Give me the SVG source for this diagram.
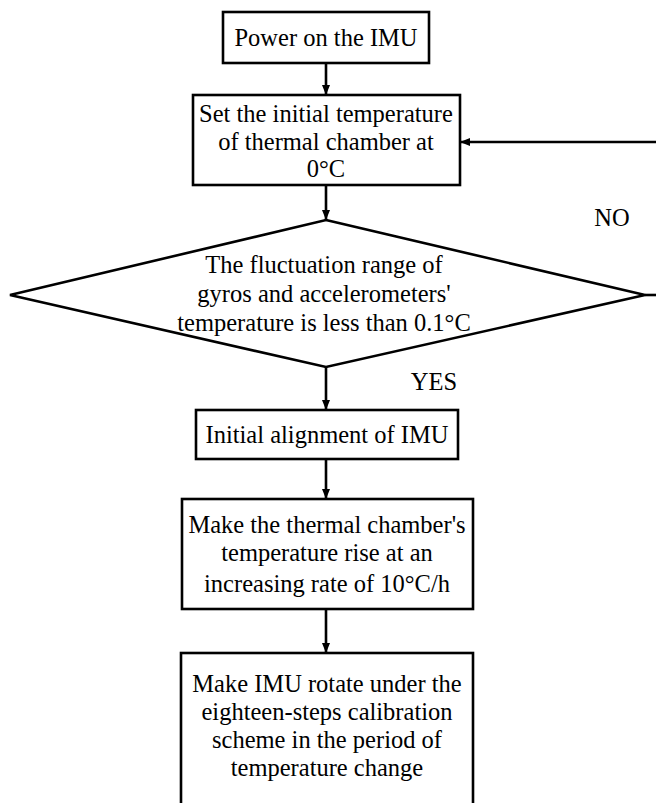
<svg xmlns="http://www.w3.org/2000/svg" width="656" height="803" viewBox="0 0 656 803">
<style>
.box{fill:#fff;stroke:#000;stroke-width:2.6}
.ln{fill:none;stroke:#000;stroke-width:2.6}
text{font-family:"Liberation Serif","Times New Roman",serif;font-size:24.5px;fill:#000;text-anchor:middle}
</style>
<defs>
<marker id="ah" viewBox="0 0 10 10" refX="10" refY="5" markerWidth="10" markerHeight="10" markerUnits="userSpaceOnUse" orient="auto">
<path d="M0,1 L10,5 L0,9 Z" fill="#000"/>
</marker>
</defs>
<rect x="0" y="0" width="656" height="803" fill="#fff"/>
<g id="connectors">
<line class="ln" x1="326" y1="63" x2="326" y2="95" marker-end="url(#ah)"/>
<line class="ln" x1="326" y1="185" x2="326" y2="220" marker-end="url(#ah)"/>
<line class="ln" x1="326" y1="367" x2="326" y2="410" marker-end="url(#ah)"/>
<line class="ln" x1="326" y1="459" x2="326" y2="499" marker-end="url(#ah)"/>
<line class="ln" x1="326" y1="609" x2="326" y2="653" marker-end="url(#ah)"/>
<line class="ln" x1="645" y1="295" x2="656" y2="295"/>
<line class="ln" x1="656" y1="142" x2="460" y2="142" marker-end="url(#ah)"/>
<text x="612" y="226">NO</text>
<text x="434" y="390">YES</text>
</g>
<g id="n1">
<rect class="box" x="223" y="12" width="206" height="51"/>
<text x="326" y="46">Power on the IMU</text>
</g>
<g id="n2">
<rect class="box" x="193" y="95" width="267" height="90"/>
<text x="326" y="122">Set the initial temperature</text>
<text x="326" y="150">of thermal chamber at</text>
<text x="326" y="177">0°C</text>
</g>
<g id="n3">
<polygon class="box" points="326,220 645,295 326,367 10,295"/>
<text x="324" y="273">The fluctuation range of</text>
<text x="324" y="302">gyros and accelerometers'</text>
<text x="324" y="331">temperature is less than 0.1°C</text>
</g>
<g id="n4">
<rect class="box" x="196" y="410" width="262" height="49"/>
<text x="327" y="443">Initial alignment of IMU</text>
</g>
<g id="n5">
<rect class="box" x="182" y="499" width="291" height="110"/>
<text x="327" y="533">Make the thermal chamber's</text>
<text x="327" y="561">temperature rise at an</text>
<text x="327" y="592">increasing rate of 10°C/h</text>
</g>
<g id="n6">
<rect class="box" x="181" y="653" width="292" height="160"/>
<text x="327" y="692">Make IMU rotate under the</text>
<text x="327" y="720">eighteen-steps calibration</text>
<text x="327" y="748">scheme in the period of</text>
<text x="327" y="776">temperature change</text>
</g>
</svg>
